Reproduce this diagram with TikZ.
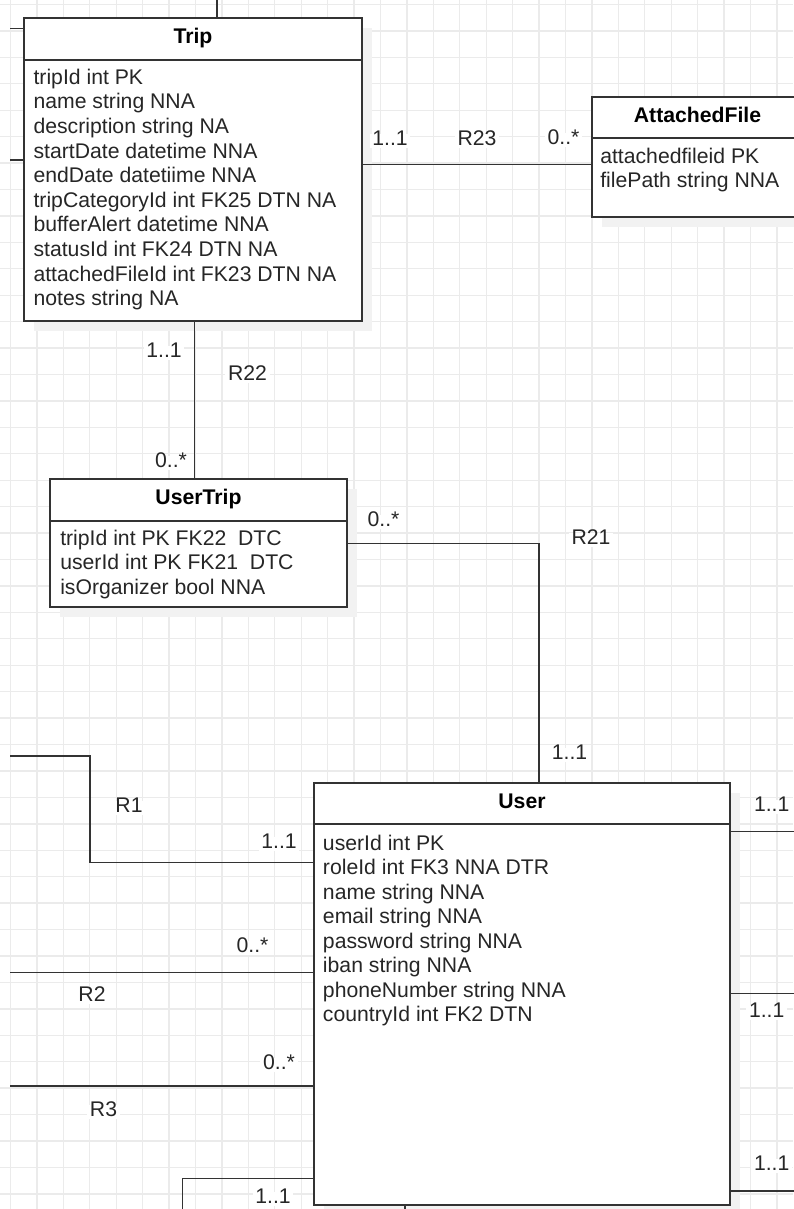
\documentclass[tikz,border=0pt]{standalone}
\usepackage{fontspec}
\setmainfont{Liberation Sans}
\usetikzlibrary{positioning, shadows}

\begin{document}
\begin{tikzpicture}[x=0.75pt, y=-0.75pt,
    every node/.style={font=\fontsize{15.9}{18.45}\selectfont},
    gridline/.style={draw=gray!16, line width=1pt},
    boxshadow/.style={drop shadow={shadow xshift=7.5pt, shadow yshift=-7.5pt, fill=gray!10, opacity=1}},
    ehead/.style={draw=black!80, line width=1.5pt, fill=white, anchor=north west, inner sep=0pt, outer sep=0pt,
        text height=0.716em, text depth=0pt, boxshadow,
        font=\fontsize{15.9}{18.45}\selectfont\bfseries},
    ebody/.style={draw=black!80, line width=1.5pt, fill=white, anchor=north west, inner sep=0pt, outer sep=0pt, boxshadow},
    attr/.style={anchor=base west, inner sep=0pt, text=black!85},
    rel/.style={draw=black!80, line width=1.1pt},
    mult/.style={fill=white, inner sep=2pt, text=black!85, text height=0.716em, text depth=0pt}]

    \useasboundingbox (0,0) rectangle (793,1209);

    % Grid
    \foreach \i in {0,...,29}
        \draw[gridline] (10.5+26.43*\i,0) -- (10.5+26.43*\i,1209);
    \foreach \j in {0,...,45}
        \draw[gridline] (0,4.5+26.43*\j) -- (793,4.5+26.43*\j);

    % Draw entities
    \node[ehead, minimum width=338*0.75pt, minimum height=42*0.75pt] (trip) at (24,18) {Trip};
    \node[ebody, minimum width=338*0.75pt, minimum height=261*0.75pt] (tripB) at (trip.south west) {};
    \foreach \t [count=\i from 0] in {tripId int PK, name string NNA, description string NA,
        startDate datetime NNA, endDate datetiime NNA, tripCategoryId int FK25 DTN NA,
        bufferAlert datetime NNA, statusId int FK24 DTN NA, attachedFileId int FK23 DTN NA,
        notes string NA}
        \node[attr] (trip-\i) at (33.3,84.3+24.6*\i) {\t};

    \node[ehead, minimum width=212*0.75pt, minimum height=41*0.75pt] (af) at (591.5,97.3) {AttachedFile};
    \node[ebody, minimum width=212*0.75pt, minimum height=79*0.75pt] (afB) at (af.south west) {};
    \foreach \t [count=\i from 0] in {attachedfileid PK, filePath string NNA}
        \node[attr] (af-\i) at (600,163.5+24.4*\i) {\t};

    \node[ehead, minimum width=297*0.75pt, minimum height=41.7*0.75pt] (ut) at (50,479.3) {UserTrip};
    \node[ebody, minimum width=297*0.75pt, minimum height=86.3*0.75pt] (utB) at (ut.south west) {};
    \foreach \t [count=\i from 0] in {tripId int PK FK22 \ DTC, userId int PK FK21 \ DTC,
        isOrganizer bool NNA}
        \node[attr] (ut-\i) at (60,545+24.5*\i) {\t};

    \node[ehead, minimum width=416*0.75pt, minimum height=40.7*0.75pt] (user) at (314,783.3) {User};
    \node[ebody, minimum width=416*0.75pt, minimum height=381*0.75pt] (userB) at (user.south west) {};
    \foreach \t [count=\i from 0] in {userId int PK, roleId int FK3 NNA DTR, name string NNA,
        email string NNA, password string NNA, iban string NNA, phoneNumber string NNA,
        countryId int FK2 DTN}
        \node[attr] (user-\i) at (322.7,850+24.53*\i) {\t};

    % Connection points
    \coordinate (tripUp) at (217,0);
    \coordinate (tripL1) at (10,28.3);
    \coordinate (tripL2) at (10,160);
    \coordinate (r23) at (0,164.5);
    \coordinate (r22) at (194.3,0);
    \coordinate (r21) at (539,543.5);
    \coordinate (r1a) at (10,756);
    \coordinate (r1b) at (90,862.3);
    \coordinate (r2) at (10,972.3);
    \coordinate (r3) at (10,1086);
    \coordinate (rbl) at (182.3,1178.3);
    \coordinate (rblEnd) at (182.3,1215);
    \coordinate (rbot) at (405,1215);
    \coordinate (rr1) at (800,831.7);
    \coordinate (rr2) at (800,993.3);
    \coordinate (rr3) at (800,1191);

    % Draw connections
    \draw[rel] (tripUp) -- (tripUp |- trip.north);
    \draw[rel] (tripL1) -- (tripL1 -| trip.west);
    \draw[rel] (tripL2) -- (tripL2 -| tripB.west);
    \draw[rel] (r23 -| tripB.east) -- (r23 -| afB.west);
    \draw[rel] (r22 |- tripB.south) -- (r22 |- ut.north);
    \draw[rel] (r21 -| utB.east) -- (r21) -- (r21 |- user.north);
    \draw[rel] (r1a) -- (r1a -| r1b) -- (r1b) -- (r1b -| userB.west);
    \draw[rel] (r2) -- (r2 -| userB.west);
    \draw[rel] (r3) -- (r3 -| userB.west);
    \draw[rel] (rbl -| userB.west) -- (rbl) -- (rblEnd);
    \draw[rel] (rbot |- userB.south) -- (rbot);
    \draw[rel] (rr1 -| userB.east) -- (rr1);
    \draw[rel] (rr2 -| userB.east) -- (rr2);
    \draw[rel] (rr3 -| userB.east) -- (rr3);

    % Multiplicities and names
    \node[mult] (m23a) at (390,141) {1..1};
    \node[mult] (n23) at (477,141) {R23};
    \node[mult] (m23b) at (563.5,140) {0..*};
    \node[mult] (m22a) at (164,353) {1..1};
    \node[mult] (n22) at (247.5,376) {R22};
    \node[mult] (m22b) at (171,463) {0..*};
    \node[mult] (m21a) at (383.5,522) {0..*};
    \node[mult] (n21) at (591,540) {R21};
    \node[mult] (m21b) at (569.5,755) {1..1};
    \node[mult] (n1) at (129,808) {R1};
    \node[mult] (m1) at (279,844) {1..1};
    \node[mult] (m2) at (252.5,948) {0..*};
    \node[mult] (n2) at (92,997) {R2};
    \node[mult] (m3) at (279,1065) {0..*};
    \node[mult] (n3) at (103.5,1112) {R3};
    \node[mult] (mbl) at (273,1199) {1..1};
    \node[mult] (mr1) at (771.7,807) {1..1};
    \node[mult] (mr2) at (766.7,1013) {1..1};
    \node[mult] (mr3) at (771.7,1166) {1..1};
\end{tikzpicture}
\end{document}
